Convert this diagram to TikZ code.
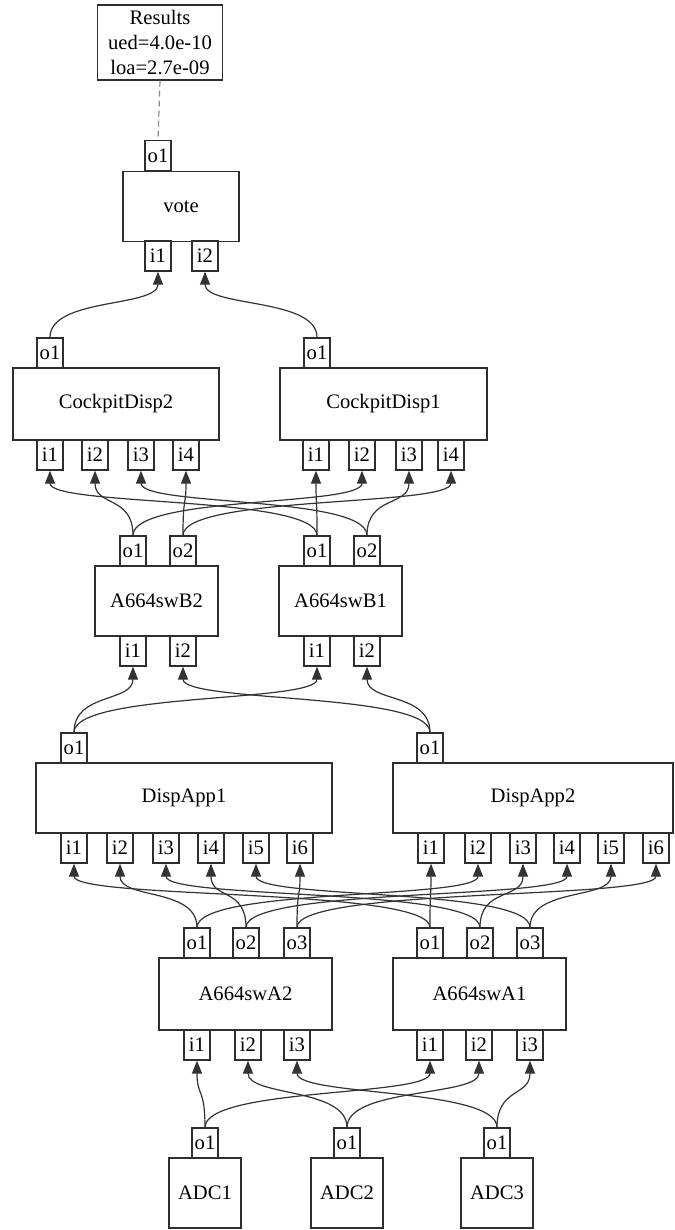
\documentclass[tikz,border=0pt]{standalone}
\usepackage{fontspec}
\setmainfont{Liberation Serif}
\usepackage{tikz}
\usetikzlibrary{arrows.meta}
\definecolor{gLine}{HTML}{2E2E2E}
\definecolor{gEdge}{HTML}{333333}
\definecolor{gTie}{HTML}{8A8A8A}
\tikzset{
  blk/.style={draw=gLine, line width=0.6pt, fill=white, minimum height=35pt,
    inner sep=2pt, font=\fontsize{10.3}{12.3}\selectfont, align=center},
  port/.style={draw=gLine, line width=0.6pt, fill=white, minimum width=13pt,
    minimum height=15pt, inner sep=0.5pt, font=\fontsize{10.3}{12.3}\selectfont},
  wire/.style={-{Triangle[length=6.5pt,width=5pt]}, line width=0.6pt, draw=gEdge},
  tie/.style={draw=gTie, line width=0.6pt, dash pattern=on 3pt off 2pt},
}

\begin{document}
\begin{tikzpicture}[x=0.5pt, y=0.5pt]
  \useasboundingbox (0,0) rectangle (674,-1230);
  % results and voter
  \node[blk, minimum width=62.5pt, minimum height=37.5pt] (res) at (160,-42.5) {Results\\ued=4.0e-10\\loa=2.7e-09};
  \node[blk, minimum width=58pt] (vote) at (181,-206.5) {vote};
  \node[port] (voteo1) at (158,-155.5) {o1};
  \node[port] (votei1) at (158,-256) {i1};
  \node[port] (votei2) at (205,-256) {i2};
  % cockpit displays
  \node[blk, minimum width=103pt, minimum height=36pt] (cd2) at (116,-404) {CockpitDisp2};
  \node[port] (cd2o1) at (50,-353) {o1};
  \node[port] (cd2i1) at (50,-455) {i1};
  \node[port] (cd2i2) at (95,-455) {i2};
  \node[port] (cd2i3) at (141,-455) {i3};
  \node[port] (cd2i4) at (186,-455) {i4};
  \node[blk, minimum width=103.5pt, minimum height=36pt] (cd1) at (383.5,-404) {CockpitDisp1};
  \node[port] (cd1o1) at (317,-353) {o1};
  \node[port] (cd1i1) at (316,-455) {i1};
  \node[port] (cd1i2) at (362,-455) {i2};
  \node[port] (cd1i3) at (409,-455) {i3};
  \node[port] (cd1i4) at (451,-455) {i4};
  % B switches
  \node[blk, minimum width=61.5pt] (swb2) at (156.5,-601) {A664swB2};
  \node[port] (b2o1) at (133,-551) {o1};
  \node[port] (b2o2) at (183,-551) {o2};
  \node[port] (b2i1) at (133,-651) {i1};
  \node[port] (b2i2) at (183,-651) {i2};
  \node[blk, minimum width=61.5pt] (swb1) at (340.5,-601) {A664swB1};
  \node[port] (b1o1) at (317,-551) {o1};
  \node[port] (b1o2) at (367,-551) {o2};
  \node[port] (b1i1) at (317,-651) {i1};
  \node[port] (b1i2) at (367,-651) {i2};
  % display applications
  \node[blk, minimum width=148pt] (da1) at (184,-798) {DispApp1};
  \node[port] (da1o1) at (74,-748) {o1};
  \node[port] (da1i1) at (74,-848) {i1};
  \node[port] (da1i2) at (120,-848) {i2};
  \node[port] (da1i3) at (166,-848) {i3};
  \node[port] (da1i4) at (211,-848) {i4};
  \node[port] (da1i5) at (256,-848) {i5};
  \node[port] (da1i6) at (300,-848) {i6};
  \node[blk, minimum width=140pt] (da2) at (533,-798) {DispApp2};
  \node[port] (da2o1) at (430,-748) {o1};
  \node[port] (da2i1) at (431,-848) {i1};
  \node[port] (da2i2) at (478,-848) {i2};
  \node[port] (da2i3) at (523,-848) {i3};
  \node[port] (da2i4) at (567,-848) {i4};
  \node[port] (da2i5) at (611,-848) {i5};
  \node[port] (da2i6) at (656,-848) {i6};
  % A switches
  \node[blk, minimum width=86.5pt, minimum height=36pt] (swa2) at (245.5,-994) {A664swA2};
  \node[port] (a2o1) at (197,-943) {o1};
  \node[port] (a2o2) at (246,-943) {o2};
  \node[port] (a2o3) at (297,-943) {o3};
  \node[port] (a2i1) at (197,-1045) {i1};
  \node[port] (a2i2) at (248,-1045) {i2};
  \node[port] (a2i3) at (297,-1045) {i3};
  \node[blk, minimum width=86.5pt, minimum height=36pt] (swa1) at (479.5,-994) {A664swA1};
  \node[port] (a1o1) at (430,-943) {o1};
  \node[port] (a1o2) at (480,-943) {o2};
  \node[port] (a1o3) at (530,-943) {o3};
  \node[port] (a1i1) at (430,-1045) {i1};
  \node[port] (a1i2) at (479,-1045) {i2};
  \node[port] (a1i3) at (530,-1045) {i3};
  % sensors
  \node[blk, minimum width=36pt] (adc1) at (205,-1193) {ADC1};
  \node[port] (adc1o1) at (205,-1143) {o1};
  \node[blk, minimum width=36pt] (adc2) at (347,-1193) {ADC2};
  \node[port] (adc2o1) at (347,-1143) {o1};
  \node[blk, minimum width=36pt] (adc3) at (497,-1193) {ADC3};
  \node[port] (adc3o1) at (497,-1143) {o1};

  % connections
  \draw[tie] (res.south) -- (voteo1.north);
  \draw[wire] (cd2o1.north) .. controls +(0,40) and +(0,-36) .. (votei1.south);
  \draw[wire] (cd1o1.north) .. controls +(0,40) and +(0,-36) .. (votei2.south);

  \draw[wire] (b2o1.north) .. controls +(0,40) and +(0,-36) .. (cd2i2.south);
  \draw[wire] (b2o1.north) .. controls +(0,40) and +(0,-36) .. (cd1i2.south);
  \draw[wire] (b2o2.north) .. controls +(0,40) and +(0,-36) .. (cd2i4.south);
  \draw[wire] (b2o2.north) .. controls +(0,40) and +(0,-36) .. (cd1i4.south);
  \draw[wire] (b1o1.north) .. controls +(0,40) and +(0,-36) .. (cd1i1.south);
  \draw[wire] (b1o1.north) .. controls +(0,40) and +(0,-36) .. (cd2i1.south);
  \draw[wire] (b1o2.north) .. controls +(0,40) and +(0,-36) .. (cd1i3.south);
  \draw[wire] (b1o2.north) .. controls +(0,40) and +(0,-36) .. (cd2i3.south);

  \draw[wire] (da1o1.north) .. controls +(0,40) and +(0,-36) .. (b2i1.south);
  \draw[wire] (da1o1.north) .. controls +(0,40) and +(0,-36) .. (b1i1.south);
  \draw[wire] (da2o1.north) .. controls +(0,40) and +(0,-36) .. (b2i2.south);
  \draw[wire] (da2o1.north) .. controls +(0,40) and +(0,-36) .. (b1i2.south);

  \draw[wire] (a2o1.north) .. controls +(0,40) and +(0,-36) .. (da1i2.south);
  \draw[wire] (a2o1.north) .. controls +(0,40) and +(0,-36) .. (da2i2.south);
  \draw[wire] (a2o2.north) .. controls +(0,40) and +(0,-36) .. (da1i4.south);
  \draw[wire] (a2o2.north) .. controls +(0,40) and +(0,-36) .. (da2i4.south);
  \draw[wire] (a2o3.north) .. controls +(0,40) and +(0,-36) .. (da1i6.south);
  \draw[wire] (a2o3.north) .. controls +(0,40) and +(0,-36) .. (da2i6.south);
  \draw[wire] (a1o1.north) .. controls +(0,40) and +(0,-36) .. (da1i1.south);
  \draw[wire] (a1o1.north) .. controls +(0,40) and +(0,-36) .. (da2i1.south);
  \draw[wire] (a1o2.north) .. controls +(0,40) and +(0,-36) .. (da1i3.south);
  \draw[wire] (a1o2.north) .. controls +(0,40) and +(0,-36) .. (da2i3.south);
  \draw[wire] (a1o3.north) .. controls +(0,40) and +(0,-36) .. (da1i5.south);
  \draw[wire] (a1o3.north) .. controls +(0,40) and +(0,-36) .. (da2i5.south);

  \draw[wire] (adc1o1.north) .. controls +(0,40) and +(0,-36) .. (a2i1.south);
  \draw[wire] (adc1o1.north) .. controls +(0,40) and +(0,-36) .. (a1i1.south);
  \draw[wire] (adc2o1.north) .. controls +(0,40) and +(0,-36) .. (a2i2.south);
  \draw[wire] (adc2o1.north) .. controls +(0,40) and +(0,-36) .. (a1i2.south);
  \draw[wire] (adc3o1.north) .. controls +(0,40) and +(0,-36) .. (a2i3.south);
  \draw[wire] (adc3o1.north) .. controls +(0,40) and +(0,-36) .. (a1i3.south);
\end{tikzpicture}
\end{document}
